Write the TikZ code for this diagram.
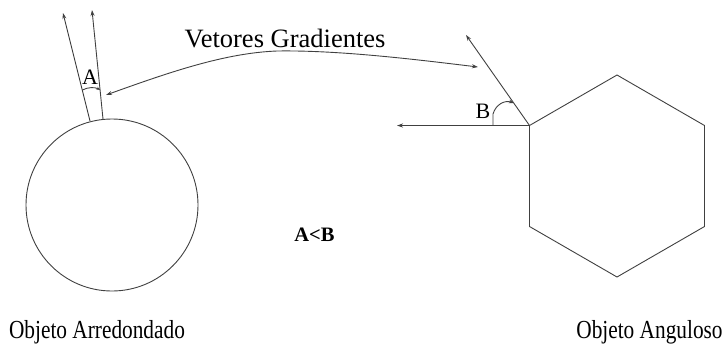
\documentclass[tikz,border=0pt]{standalone}
\usepackage{fontspec}
\setmainfont{Liberation Serif}
\usetikzlibrary{arrows.meta}
\tikzset{
  ln/.style={draw=black!75, line width=0.9pt},
  arr/.style={ln, -{Stealth[length=6pt,width=4pt]}},
  lbl/.style={inner sep=0pt, anchor=base},
}
\begin{document}
\begin{tikzpicture}[x=1pt,y=-1pt]
\useasboundingbox (0,0) rectangle (727,346);
% round object
\node[ln, circle, minimum size=172pt, inner sep=0pt] (circ) at (112,205) {};
\coordinate (b1) at (90,121);
\coordinate (b2) at (103,119);
\coordinate (t1) at (63,13);
\coordinate (t2) at (92,10);
\draw[arr] (b1) -- (t1);
\draw[arr] (b2) -- (t2);
\coordinate (a1) at (82.4,90);
\coordinate (a2) at (100.2,90);
\draw[ln, -{Stealth[length=4pt,width=3pt]}] (a1) .. controls (88,87) and (95,87) .. (a2);
\node[lbl, font=\fontsize{22}{22}\selectfont] (A) at (90,84) {A};
% hexagon
\coordinate (h1) at (617,75);
\coordinate (h2) at (704.5,125.5);
\coordinate (h3) at (704.5,226.5);
\coordinate (h4) at (617,277);
\coordinate (h5) at (529.5,226.5);
\coordinate (h6) at (529.5,125.5);
\draw[ln, line join=miter] (h1) -- (h2) -- (h3) -- (h4) -- (h5) -- (h6) -- cycle;
\coordinate (hl) at (397,125.5);
\coordinate (hd) at (466,35);
\draw[arr] (h6) -- (hl);
\draw[arr] (h6) -- (hd);
\coordinate (bs) at (493,125.5);
\coordinate (be) at (513.8,103);
\draw[ln, -{Stealth[length=5pt,width=3.5pt]}] (bs) -- (493,114) .. controls (496,104) and (505,100) .. (be);
\node[lbl, font=\fontsize{22}{22}\selectfont] (B) at (483,118) {B};
% label with arrows
\node[lbl, font=\fontsize{26.5}{26.5}\selectfont] (vg) at (285,47) {Vetores Gradientes};
\coordinate (vl) at (106,95);
\coordinate (vm) at (277,51);
\coordinate (vr) at (478,67);
\draw[ln, {Stealth[length=6pt,width=4pt]}-{Stealth[length=6pt,width=4pt]}] (vl) .. controls (170,72) and (225,53) .. (vm) .. controls (340,50) and (420,60) .. (vr);
% A<B
\node[lbl, font=\bfseries\fontsize{20.5}{20.5}\selectfont] (ab) at (314.5,241) {A<B};
% bottom labels
\node[lbl, font=\fontsize{26}{26}\selectfont] (oa) at (97,338) {\scalebox{0.82}[1]{Objeto Arredondado}};
\node[lbl, font=\fontsize{26}{26}\selectfont] (og) at (649.5,338) {\scalebox{0.82}[1]{Objeto Anguloso}};
\end{tikzpicture}
\end{document}
